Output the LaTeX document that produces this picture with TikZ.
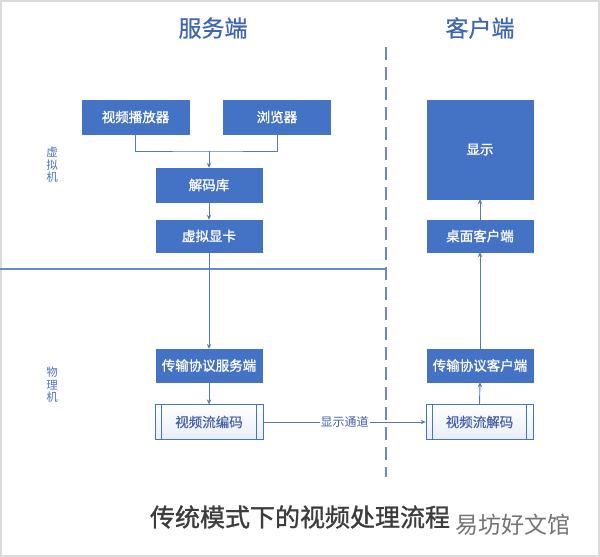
\documentclass[tikz,border=0pt]{standalone}
\usepackage{fontspec}
\setmainfont{Noto Sans CJK SC}
\newfontfamily\medfont{Noto Sans CJK SC}[FakeBold=1.2]
\newfontfamily\semfont{Noto Sans CJK SC}[FakeBold=0.6]
\usetikzlibrary{arrows.meta}
\definecolor{boxblue}{HTML}{4472C4}
\definecolor{linecol}{HTML}{5B78AE}
\definecolor{titleblue}{HTML}{3F66B0}
\definecolor{sidecol}{HTML}{4A74BE}
\definecolor{sepcol}{HTML}{6A8AC6}
\definecolor{streamtext}{HTML}{4560A6}
\definecolor{capgray}{HTML}{3C3C3C}
\tikzset{
  bluebox/.style={draw=boxblue, fill=boxblue, text=white, minimum width=106pt, minimum height=33pt, inner sep=0pt, font=\medfont\fontsize{13.5}{15}\selectfont},
  streambox/.style={draw=boxblue, line width=0.8pt, top color=white, bottom color=boxblue!12, text=streamtext, minimum width=108pt, minimum height=34.5pt, inner sep=0pt, font=\semfont\fontsize{13.5}{15}\selectfont},
  conn/.style={draw=linecol, line width=0.9pt},
  arr/.style={conn, -{Stealth[length=5pt,width=4.5pt]}},
  sidelabel/.style={text=sidecol, align=center, font=\fontsize{11.5}{12.5}\selectfont},
  title/.style={text=titleblue, font=\semfont\fontsize{23}{25}\selectfont}
}
\begin{document}
\begin{tikzpicture}[x=1pt,y=-1pt]
\useasboundingbox (0,0) rectangle (600,557);
\draw[black!14, line width=1.5pt] (1,1) rectangle (599,556);
% titles
\node[title] (tserver) at (213,28) {服务端};
\node[title] (tclient) at (480,28) {客户端};
% separators
\coordinate (sepL) at (0,269);
\coordinate (sepR) at (386,269);
\coordinate (dashT) at (386,47);
\coordinate (dashB) at (386,477);
\draw[sepcol, line width=2pt] (sepL) -- (sepR);
\draw[sepcol, line width=2pt, dash pattern=on 13pt off 7pt] (dashT) -- (dashB);
% side labels
\node[sidelabel] (vm) at (52,165) {虚\\拟\\机};
\node[sidelabel] (pm) at (52,385) {物\\理\\机};
% server boxes
\node[bluebox, minimum width=107pt, minimum height=34pt] (player) at (135.5,117) {视频播放器};
\node[bluebox, minimum width=107pt, minimum height=34pt] (browser) at (277,117) {浏览器};
\node[bluebox, minimum height=34pt] (declib) at (209,185) {解码库};
\node[bluebox, minimum height=32pt] (vgpu) at (209,236) {虚拟显卡};
\node[bluebox] (pserver) at (209,365.5) {传输协议服务端};
\node[streambox] (enc) at (209,422) {视频流编码};
% client boxes
\node[bluebox, minimum height=99pt] (display) at (480,149.5) {显示};
\node[bluebox, minimum height=32pt] (desk) at (480,236) {桌面客户端};
\node[bluebox] (pclient) at (480,365.5) {传输协议客户端};
\node[streambox, minimum width=107pt] (dec) at (479.5,422) {视频流解码};
% inner lines of stream boxes
\draw[boxblue, line width=0.8pt] ([xshift=7pt]enc.north west) -- ([xshift=7pt]enc.south west);
\draw[boxblue, line width=0.8pt] ([xshift=-7pt]enc.north east) -- ([xshift=-7pt]enc.south east);
\draw[boxblue, line width=0.8pt] ([xshift=7pt]dec.north west) -- ([xshift=7pt]dec.south west);
\draw[boxblue, line width=0.8pt] ([xshift=-7pt]dec.north east) -- ([xshift=-7pt]dec.south east);
% connectors
\coordinate (join) at (209,151);
\draw[conn] (player.south) |- (join) -| (browser.south);
\draw[arr] (join) -- (declib.north);
\draw[arr] (declib.south) -- (vgpu.north);
\draw[arr] (vgpu.south) -- (pserver.north);
\draw[arr] (pserver.south) -- (enc.north);
\draw[arr] (enc.east) -- node[pos=0.5, fill=white, inner sep=1pt, text=streamtext, font=\fontsize{12}{13}\selectfont] (chan) {显示通道} (dec.west);
\draw[arr] (dec.north) -- (pclient.south);
\draw[arr] (pclient.north) -- (desk.south);
\draw[arr] (desk.north) -- (display.south);
% caption and watermark
\node[text=capgray, font=\medfont\fontsize{25}{27}\selectfont] (caption) at (300,517) {传统模式下的视频处理流程};
\node[text=black!55, font=\fontsize{23}{25}\selectfont] (wm) at (513,525) {易坊好文馆};
\end{tikzpicture}
\end{document}
